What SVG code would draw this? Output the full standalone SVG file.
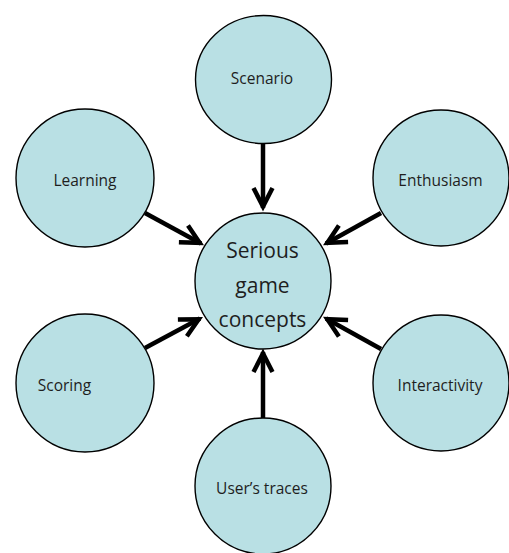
<svg xmlns="http://www.w3.org/2000/svg" width="509" height="553" viewBox="0 0 509 553">
<style>
.node{fill:#b9e0e4;stroke:#000;stroke-width:1.4}
.lbl{font-family:"Open Sans","Noto Sans",sans-serif;font-size:15.5px;fill:#1e1e1e;text-anchor:middle}
.big{font-family:"Open Sans","Noto Sans",sans-serif;font-size:21px;fill:#1e1e1e;text-anchor:middle}
.con{stroke:#000;stroke-width:4.5;fill:none;marker-end:url(#arr)}
</style>
<defs>
<marker id="arr" markerUnits="userSpaceOnUse" markerWidth="40" markerHeight="40" refX="0" refY="0" orient="auto" viewBox="-30 -20 40 40" overflow="visible">
<path d="M-20,-9.5 L-1.5,0 L-20,9.5" fill="none" stroke="#000" stroke-width="4.5" stroke-linecap="butt" stroke-linejoin="miter"/>
</marker>
</defs>
<rect width="509" height="553" fill="#fff"/>
<g id="connectors">
<line class="con" x1="263" y1="143" x2="263" y2="208"/>
<line class="con" x1="145" y1="213" x2="201" y2="243.5"/>
<line class="con" x1="381" y1="213" x2="326" y2="243.5"/>
<line class="con" x1="145" y1="348" x2="200" y2="318.5"/>
<line class="con" x1="381" y1="349" x2="326" y2="318.5"/>
<line class="con" x1="263" y1="418" x2="263" y2="352"/>
</g>
<g id="center">
<circle class="node" cx="263" cy="281" r="68"/>
<text class="big" x="262.5" y="258">Serious</text>
<text class="big" x="262.5" y="293">game</text>
<text class="big" x="262.5" y="327">concepts</text>
</g>
<g id="scenario">
<ellipse class="node" cx="263.5" cy="79.5" rx="68" ry="64"/>
<text class="lbl" x="262" y="84">Scenario</text>
</g>
<g id="learning">
<circle class="node" cx="85" cy="178" r="69"/>
<text class="lbl" x="85" y="185.5">Learning</text>
</g>
<g id="enthusiasm">
<circle class="node" cx="441" cy="178" r="68"/>
<text class="lbl" x="440.5" y="185.5">Enthusiasm</text>
</g>
<g id="scoring">
<circle class="node" cx="85" cy="383" r="69"/>
<text class="lbl" x="64.5" y="391">Scoring</text>
</g>
<g id="interactivity">
<circle class="node" cx="441" cy="383" r="68"/>
<text class="lbl" x="440" y="391">Interactivity</text>
</g>
<g id="users-traces">
<circle class="node" cx="263" cy="486" r="68"/>
<text class="lbl" x="262" y="494">User’s traces</text>
</g>
</svg>
